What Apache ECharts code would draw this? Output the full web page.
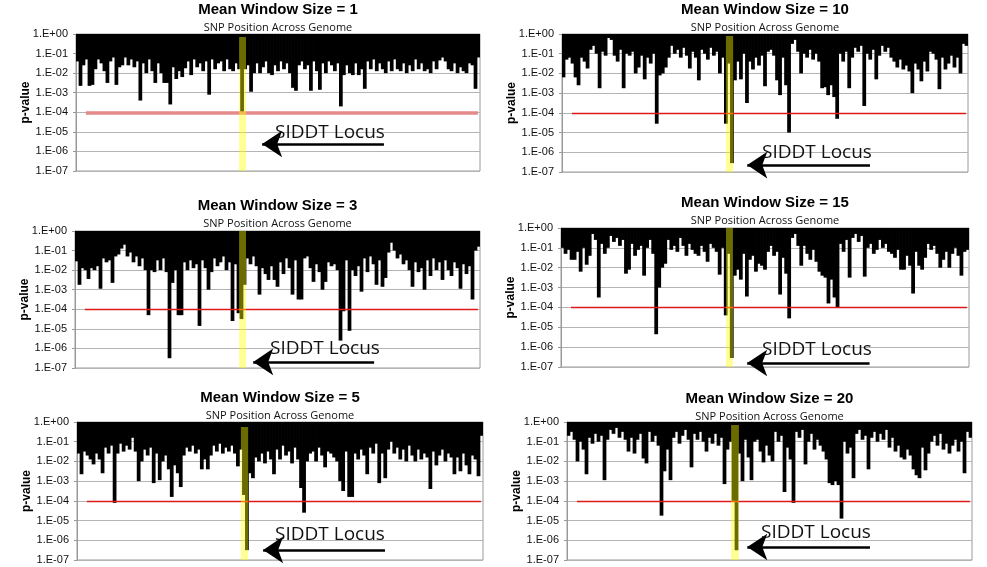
<!DOCTYPE html>
<html>
<head>
<meta charset="utf-8">
<script src="https://cdn.jsdelivr.net/npm/echarts/dist/echarts.min.js"></script>
<style>
html, body { margin: 0; background: #fff; }
#chart { width: 987px; height: 567px; }
</style>
</head>
<body>
<div id="chart"></div>
<script>
// -log10(p-value) of each SNP window along the genome, one array per mean window size
const w1 = [
  1.4, 2.65, 1.6, 1.3, 2.65, 2.6, 1.8, 1.3, 1.5, 1.9, 2.5, 1.4, 1.2, 2.6, 1.7,
  1.6, 1.2, 1.6, 1.3, 1.7, 1.4, 3.4, 1.5, 2.0, 1.3, 1.9, 2.5, 1.5, 2.0, 2.5,
  2.5, 3.6, 1.7, 2.3, 1.9, 2.2, 1.75, 1.4, 2.1, 1.3, 1.7, 1.5, 1.9, 1.4, 3.1,
  1.3, 1.8, 1.5, 1.4, 1.9, 1.3, 1.8, 1.9, 1.5, 1.8, 4.0, 1.8, 1.6, 2.95, 2.0,
  1.5, 2.0, 1.7, 1.4, 2.0, 2.1, 1.6, 1.9, 1.4, 1.8, 1.5, 2.0, 2.75, 2.9, 1.6,
  1.4, 1.8, 1.6, 2.9, 1.4, 1.9, 2.85, 1.5, 2.0, 1.4, 1.6, 1.9, 1.5, 3.7, 2.1,
  1.6, 2.0, 2.1, 1.5, 2.1, 1.8, 2.8, 1.4, 1.8, 1.3, 1.9, 1.5, 1.8, 2.0, 1.4,
  1.9, 1.3, 1.8, 1.9, 1.5, 2.0, 1.6, 1.9, 1.3, 1.8, 1.5, 1.9, 1.8, 2.0, 1.4,
  1.8, 1.35, 1.2, 1.4, 1.8, 1.9, 1.5, 2.0, 1.7, 1.9, 2.0, 1.5, 1.6, 2.8, 1.2
];
const w10 = [
  2.2, 1.3, 1.2, 1.5, 2.2, 2.6, 1.2, 1.4, 1.75, 0.8, 0.6, 1.0, 2.75, 0.9, 1.1,
  0.2, 0.3, 1.1, 1.4, 0.8, 2.75, 1.0, 1.1, 0.9, 2.0, 1.7, 1.1, 2.3, 1.2, 1.5,
  1.0, 4.55, 2.1, 2.0, 1.7, 1.2, 0.6, 1.0, 0.8, 1.2, 0.7, 1.1, 1.75, 0.9, 1.2,
  2.35, 0.8, 1.0, 1.3, 0.7, 1.1, 0.9, 2.0, 1.2, 4.55, 1.5, 6.55, 2.35, 1.4, 2.3,
  1.0, 3.5, 1.4, 1.8, 1.2, 1.6, 1.1, 2.65, 0.9, 0.8, 1.1, 2.35, 3.1, 1.2, 2.6,
  5.0, 0.5, 0.3, 0.9, 2.0, 1.0, 1.2, 0.8, 1.3, 1.0, 1.4, 2.75, 2.7, 3.1, 2.6,
  3.2, 4.3, 1.0, 1.4, 0.9, 2.75, 1.2, 0.7, 0.9, 0.6, 3.65, 1.0, 1.3, 0.8, 2.3,
  1.1, 0.6, 0.9, 0.7, 1.2, 1.4, 1.7, 1.3, 1.8, 1.6, 1.9, 3.0, 1.5, 1.8, 2.4,
  1.4, 1.9, 0.9, 1.0, 1.3, 2.8, 1.2, 1.8, 1.5, 1.1, 1.7, 1.2, 2.0, 0.5, 0.6
];
const w3 = [
  1.55, 2.75, 1.9, 2.0, 2.45, 1.9, 2.0, 1.8, 2.95, 1.4, 1.6, 1.5, 2.65, 1.3, 1.2,
  0.9, 0.7, 1.3, 1.1, 1.6, 1.3, 1.8, 1.4, 2.0, 4.3, 2.0, 2.1, 1.5, 2.0, 1.4,
  2.1, 6.5, 2.65, 2.0, 4.3, 4.3, 1.6, 2.0, 1.5, 1.9, 1.7, 4.85, 1.5, 1.9, 3.0,
  2.1, 1.4, 1.8, 1.6, 1.3, 2.0, 1.6, 4.6, 1.7, 4.2, 4.5, 2.75, 1.4, 1.7, 1.3,
  1.8, 3.25, 1.9, 2.2, 2.5, 1.8, 2.5, 2.85, 1.6, 2.2, 1.4, 1.9, 3.25, 1.5, 3.5,
  3.5, 1.4, 1.3, 1.9, 2.6, 1.7, 2.1, 3.0, 2.6, 1.6, 1.8, 1.7, 2.0, 5.6, 4.1,
  1.5, 5.1, 2.0, 2.3, 1.8, 3.1, 1.4, 2.1, 1.3, 1.7, 2.75, 1.5, 2.85, 2.4, 1.1,
  0.6, 1.0, 1.4, 1.2, 1.7, 1.5, 2.0, 2.85, 1.6, 2.1, 1.9, 3.0, 1.5, 2.3, 1.4,
  2.0, 1.6, 2.5, 1.5, 2.0, 2.3, 1.6, 1.9, 2.95, 1.7, 2.2, 1.8, 3.5, 1.0, 0.8
];
const w15 = [
  1.0, 1.3, 1.1, 1.6, 1.6, 1.2, 2.2, 1.0, 1.85, 1.4, 0.3, 0.6, 3.5, 0.8, 1.3,
  1.0, 0.4, 0.7, 0.5, 0.9, 0.6, 2.3, 2.1, 0.8, 1.4, 1.1, 0.9, 2.4, 1.0, 0.6,
  1.3, 5.35, 3.0, 2.0, 1.8, 0.6, 1.1, 0.9, 1.2, 0.5, 0.9, 1.4, 0.8, 1.1, 1.3,
  1.4, 0.9, 1.2, 1.7, 0.8, 1.0, 1.2, 2.35, 1.0, 4.4, 1.3, 6.55, 2.4, 2.1, 2.6,
  1.3, 3.45, 1.6, 1.4, 2.2, 1.8, 1.9, 2.1, 1.2, 0.9, 1.4, 1.2, 3.35, 1.5, 2.3,
  4.55, 0.5, 0.3, 0.9, 1.9, 0.9, 1.3, 1.6, 1.1, 1.7, 2.2, 2.4, 2.5, 3.8, 2.6,
  3.5, 4.0, 0.8, 1.2, 0.6, 2.5, 0.5, 0.3, 0.7, 0.4, 2.45, 1.0, 0.8, 1.3, 1.1,
  0.6, 1.0, 0.8, 1.2, 1.3, 1.5, 1.1, 2.1, 2.1, 1.4, 1.9, 3.3, 1.2, 1.9, 2.1,
  1.5, 0.8, 1.1, 0.9, 1.3, 2.0, 1.6, 1.2, 2.0, 1.3, 1.0, 1.4, 2.4, 1.2, 1.1
];
const w5 = [
  1.6, 2.65, 1.5, 1.7, 1.9, 2.15, 1.6, 1.9, 2.6, 1.3, 1.6, 1.2, 4.1, 1.6, 1.1,
  1.5, 1.2, 1.4, 0.8, 1.5, 3.0, 2.0, 1.4, 1.7, 1.3, 3.1, 1.6, 2.95, 2.0, 1.7,
  2.4, 3.8, 2.2, 2.6, 3.3, 1.7, 1.3, 1.5, 1.2, 1.6, 1.4, 2.4, 1.9, 2.4, 1.7,
  1.2, 1.5, 1.1, 1.6, 1.3, 1.5, 1.2, 1.6, 2.25, 1.4, 3.7, 6.5, 2.6, 2.85, 1.8,
  2.0, 1.6, 2.1, 1.5, 1.9, 2.65, 1.4, 1.9, 1.2, 1.7, 1.5, 2.1, 1.3, 1.9, 3.35,
  4.6, 2.0, 1.6, 1.5, 2.0, 1.3, 1.7, 2.3, 1.5, 1.6, 1.8, 2.0, 3.0, 3.5, 1.5,
  3.8, 3.8, 1.6, 1.9, 1.4, 1.7, 2.65, 1.3, 1.6, 1.1, 3.1, 1.6, 2.85, 1.4, 1.0,
  1.6, 1.3, 1.9, 1.4, 2.0, 1.2, 1.7, 2.0, 1.4, 1.9, 1.6, 1.8, 3.4, 1.5, 2.2,
  1.7, 1.4, 2.0, 1.6, 1.8, 2.65, 1.8, 2.5, 1.6, 2.2, 2.65, 1.7, 1.9, 2.75, 0.7
];
const w20 = [
  0.7, 0.5, 0.9, 2.0, 1.0, 1.4, 2.65, 0.8, 1.1, 0.6, 1.0, 0.7, 2.95, 0.9, 0.4,
  0.6, 0.3, 0.8, 0.5, 0.9, 1.5, 0.8, 1.6, 0.9, 0.6, 1.85, 2.1, 0.5, 1.0, 0.7,
  1.2, 4.75, 2.5, 1.4, 2.95, 0.8, 0.5, 1.1, 0.7, 0.4, 0.9, 2.3, 0.6, 0.9, 0.5,
  1.0, 1.5, 0.8, 1.1, 0.6, 1.2, 0.8, 3.15, 1.4, 1.0, 4.0, 6.5, 1.6, 3.0, 0.9,
  1.8, 2.95, 1.0, 0.9, 1.5, 2.05, 1.2, 1.7, 2.0, 0.5, 1.0, 0.7, 3.55, 1.3, 1.9,
  4.1, 0.5, 0.8, 0.4, 2.15, 1.0, 0.6, 1.4, 0.9, 1.2, 1.5, 1.9, 3.1, 3.2, 3.0,
  3.2, 4.9, 1.0, 1.6, 1.3, 2.85, 0.6, 0.4, 0.9, 0.7, 2.4, 0.8, 0.5, 1.0, 0.6,
  0.9, 0.4, 1.3, 0.8, 1.5, 1.2, 1.8, 1.9, 1.4, 1.7, 2.4, 2.7, 2.85, 1.3, 2.45,
  1.6, 1.0, 0.7, 1.2, 0.6, 1.4, 1.1, 1.6, 1.2, 0.9, 1.5, 1.0, 2.6, 0.5, 0.8
];

const windowSizes = [1, 10, 3, 15, 5, 20];
const yTicks = ['1.E+00', '1.E-01', '1.E-02', '1.E-03', '1.E-04', '1.E-05', '1.E-06', '1.E-07'];
const threshold = 4; // p = 1.E-04
const locusLabel = 'SIDDT Locus';

// panel order: TL, TR, ML, MR, BL, BR
const series_data = [w1, w10, w3, w15, w5, w20];

const grids = [
  { left: 76, top: 34, width: 404, height: 137 },
  { left: 562, top: 34, width: 406, height: 138 },
  { left: 75, top: 231, width: 405, height: 137 },
  { left: 561, top: 228, width: 408, height: 139 },
  { left: 77, top: 422, width: 406, height: 138 },
  { left: 567, top: 422, width: 405, height: 138 }
];
const titleTops = [2, 2, 198, 195, 390, 391];
// locus band [from, to, top] in SNP index units, arrow [tip, tail, depth], label centre px
const bands = [[54.5, 56.8, 0.15], [54.5, 56.9, 0.1], [54.7, 57.0, 0], [54.6, 56.9, 0], [54.5, 56.9, 0.25], [54.7, 57.3, 0.15]];
const arrows = [[62.2, 102.9, 5.62], [61.6, 102.4, 6.65], [59.4, 99.7, 6.69], [61.6, 102.1, 6.8], [61.9, 102.4, 6.49], [60.1, 101.0, 6.34]];
const labelPos = [[330, 133], [817, 153], [325, 349], [817, 350], [330, 535], [816, 533]];

const SANS = '"Liberation Sans", Arial, sans-serif';
const MYRIAD = '"Open Sans", "Noto Sans", sans-serif';

const chart = echarts.init(document.getElementById('chart'));
const option = {
  animation: false,
  backgroundColor: '#fff',
  title: [],
  grid: [],
  xAxis: [],
  yAxis: [],
  series: [],
  graphic: []
};

series_data.forEach((vals, k) => {
  const g = grids[k];
  option.grid.push(Object.assign({
    show: true, borderColor: '#9a9a9a', borderWidth: 1,
    containLabel: false, outerBoundsMode: 'none'
  }, g));
  option.title.push({
    text: 'Mean Window Size = ' + windowSizes[k],
    subtext: 'SNP Position Across Genome',
    left: g.left + g.width / 2,
    top: titleTops[k],
    textAlign: 'center',
    padding: 0,
    itemGap: 5,
    textStyle: { fontFamily: SANS, fontWeight: 'bold', fontSize: 15, color: '#000' },
    subtextStyle: { fontFamily: MYRIAD, fontSize: 11, color: '#111' }
  });
  option.yAxis.push({
    gridIndex: k,
    type: 'value',
    inverse: true,
    min: 0, max: 7, interval: 1,
    name: 'p-value',
    nameLocation: 'middle',
    nameGap: 44,
    nameMoveOverlap: false,
    nameTextStyle: { fontFamily: SANS, fontWeight: 'bold', fontSize: 12, color: '#000' },
    axisLine: { show: true, lineStyle: { color: '#999' } },
    axisTick: { show: true, length: 3, lineStyle: { color: '#999' } },
    axisLabel: { formatter: v => yTicks[v], fontFamily: SANS, fontSize: 11, color: '#111', margin: 8 },
    splitLine: { show: true, lineStyle: { color: '#b4b4b4', width: 1 } }
  });
  option.xAxis.push({
    gridIndex: k,
    type: 'category',
    data: vals.map((_, i) => i + 1),
    boundaryGap: true,
    axisLine: { show: false }, axisTick: { show: false }, axisLabel: { show: false },
    splitLine: { show: false }
  });
  option.series.push({
    type: 'bar',
    xAxisIndex: k, yAxisIndex: k,
    data: vals,
    barWidth: '125%',
    itemStyle: { color: '#000', borderWidth: 0 },
    silent: true,
    z: 2
  });
  option.graphic.push({
    type: 'text',
    x: labelPos[k][0], y: labelPos[k][1],
    style: { text: locusLabel, font: '19px ' + MYRIAD, fill: '#111', align: 'center', verticalAlign: 'middle' },
    z: 20
  });
});

// hidden numeric x axes for the locus band, threshold and arrow
series_data.forEach((vals, k) => {
  const n = vals.length;
  option.xAxis.push({ gridIndex: k, type: 'value', min: 0, max: n, show: false });
  const b = bands[k], a = arrows[k];
  option.series.push({
    type: 'line',
    xAxisIndex: 6 + k, yAxisIndex: k,
    data: [[0, 0]],
    symbol: 'none', showSymbol: false,
    lineStyle: { opacity: 0 },
    silent: true,
    z: 5,
    markLine: {
      silent: true,
      z: 3,
      animation: false,
      label: { show: false },
      data: [
        [
          { coord: [3.3, threshold], symbol: 'none',
            lineStyle: k === 0 ? { color: '#e48a8a', width: 3.5, type: 'solid' } : { color: '#e01818', width: 1.3, type: 'solid' } },
          { coord: [n - 0.7, threshold], symbol: 'none' }
        ],
        [
          { coord: [a[1], a[2]], symbol: 'none', lineStyle: { color: '#000', width: 2.5, type: 'solid' } },
          { coord: [a[0], a[2]], symbol: 'arrow', symbolSize: 20 }
        ]
      ]
    },
    markArea: {
      silent: true,
      z: 4,
      itemStyle: { color: 'rgba(255,255,0,0.42)' },
      data: [[{ xAxis: b[0], yAxis: b[2] }, { xAxis: b[1], yAxis: 7 }]]
    }
  });
});

chart.setOption(option);
</script>
</body>
</html>
